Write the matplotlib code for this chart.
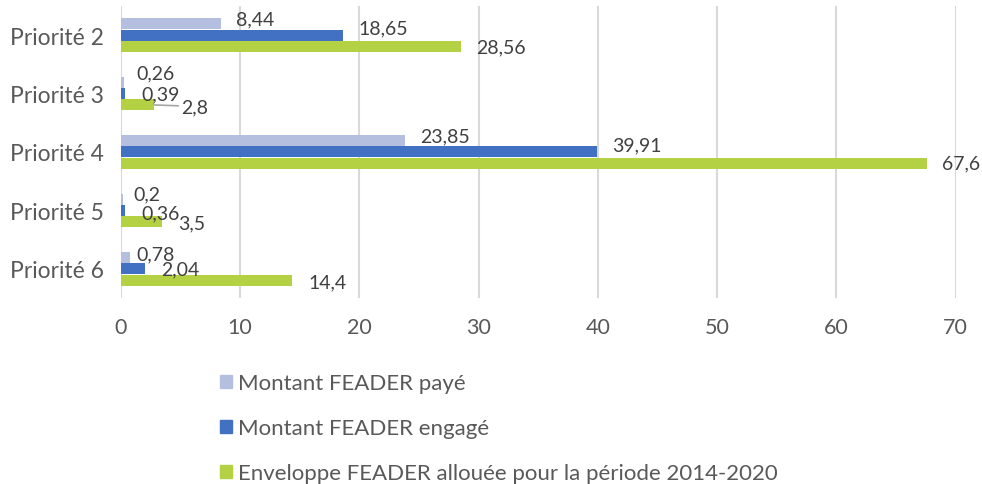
import matplotlib.pyplot as plt
from matplotlib.patches import Patch

plt.rcParams['font.family'] = ['Lato', 'DejaVu Sans']

categories = ["Priorité 2", "Priorité 3", "Priorité 4", "Priorité 5", "Priorité 6"]
series_names = ["Montant FEADER payé",
                "Montant FEADER engagé",
                "Enveloppe FEADER allouée pour la période 2014-2020"]
paye = [8.44, 0.26, 23.85, 0.2, 0.78]
engage = [18.65, 0.39, 39.91, 0.36, 2.04]
enveloppe = [28.56, 2.8, 67.6, 3.5, 14.4]
xticks = [0, 10, 20, 30, 40, 50, 60, 70]

colors = ["#b4bfe0", "#4270c2", "#b3d143"]
series = [paye, engage, enveloppe]

# label offsets in pixels (dx, dy; dy positive = down) like Excel placed them
default_dy = [-5, -7, 0]
label_offsets = {
    (0, 1): (13, -9), (1, 1): (16, 0), (2, 1): (27, 1.5),
    (0, 3): (10, -5), (1, 3): (16, 2), (2, 3): (16, 1),
    (0, 4): (6, -3.5), (1, 4): (16, 0), (2, 4): (16, 2),
}

fig = plt.figure(figsize=(9.82, 4.85), dpi=100)
ax = fig.add_axes([0.1229, 0.3835, 0.8503, 0.6021])

h = 0.194
for s, (vals, col) in enumerate(zip(series, colors)):
    pos = [i + (s - 1) * h for i in range(len(categories))]
    ax.barh(pos, vals, height=h * 0.97, color=col, zorder=2)
    for i, v in enumerate(vals):
        dx, dy = label_offsets.get((s, i), (15, default_dy[s]))
        txt = f"{v:g}".replace(".", ",")
        kw = {}
        if (s, i) == (2, 1):
            kw["arrowprops"] = dict(arrowstyle="-", color="#a6a6a6", lw=1.2,
                                    shrinkA=0, shrinkB=0)
        ax.annotate(txt, xy=(v, pos[i]), xytext=(dx * 0.72, -dy * 0.72),
                    textcoords="offset points", ha="left", va="center",
                    fontsize=14, color="#404040", **kw)

ax.set_xlim(0, 70)
ax.set_ylim(len(categories) - 0.5, -0.5)
ax.set_yticks(range(len(categories)))
ax.set_yticklabels(categories, fontsize=16.5, color="#595959")
ax.set_xticks(xticks)
ax.set_xticklabels([str(t) for t in xticks], fontsize=15.5, color="#595959")
ax.tick_params(length=0, pad=14)
ax.tick_params(axis="y", pad=12)
ax.grid(axis="x", color="#d9d9d9", lw=1.5, zorder=0)
for sp in ax.spines.values():
    sp.set_visible(False)

handles = [Patch(color=c) for c in colors]
fig.legend(handles, series_names, loc="upper left",
           bbox_to_anchor=(0.224, 0.228), frameon=False,
           fontsize=16, labelcolor="#595959", handlelength=0.55,
           handleheight=0.55, handletextpad=0.27, labelspacing=1.12,
           borderaxespad=0, borderpad=0)

fig.savefig("out.png", dpi=100)
